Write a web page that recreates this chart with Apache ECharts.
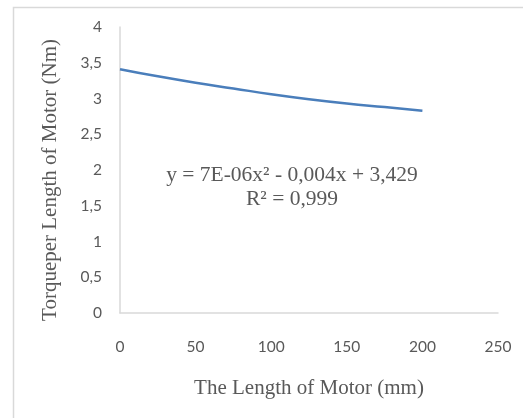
<!DOCTYPE html>
<html><head><meta charset="utf-8">
<script src="https://cdn.jsdelivr.net/npm/echarts@6/dist/echarts.min.js"></script>
<style>html,body{margin:0;padding:0;background:#fff}#c{width:523px;height:418px}</style>
</head><body><div id="c"></div>
<script>
const xValues = [0, 25, 50, 75, 100, 125, 150, 175, 200];
const torque = [3.41, 3.31, 3.22, 3.14, 3.06, 2.99, 2.93, 2.88, 2.83];
const xTicks = [0, 50, 100, 150, 200, 250];
const yTicks = ['0', '0,5', '1', '1,5', '2', '2,5', '3', '3,5', '4'];
const xName = 'The Length of Motor (mm)';
const yName = 'Torqueper Length of Motor (Nm)';
const eqLine1 = 'y = 7E-06x² - 0,004x + 3,429';
const eqLine2 = 'R² = 0,999';

const chart = echarts.init(document.getElementById('c'), null, {renderer: 'canvas'});
const serif = '"Liberation Serif", "DejaVu Serif", serif';
chart.setOption({
  animation: false,
  backgroundColor: '#fff',
  grid: {left: 120, right: 25, top: 27, bottom: 105},
  xAxis: {
    type: 'value', min: 0, max: 250, interval: 50,
    axisLine: {show: true, lineStyle: {color: '#d9d9d9', width: 1.5}},
    axisTick: {show: false},
    splitLine: {show: false},
    axisLabel: {color: '#595959', fontFamily: 'Lato', fontSize: 15.5, margin: 26,
      formatter: v => String(v)},
    name: xName, nameLocation: 'middle', nameGap: 65,
    nameTextStyle: {color: '#595959', fontFamily: serif, fontSize: 21}
  },
  yAxis: {
    type: 'value', min: 0, max: 4, interval: 0.5,
    axisLine: {show: true, lineStyle: {color: '#d9d9d9', width: 1.5}},
    axisTick: {show: false},
    splitLine: {show: false},
    axisLabel: {color: '#595959', fontFamily: 'Lato', fontSize: 15.5, margin: 18,
      formatter: v => yTicks[Math.round(v / 0.5)]}
  },
  series: [{
    type: 'line', smooth: true, showSymbol: false,
    data: xValues.map((x, i) => [x, torque[i]]),
    lineStyle: {color: '#4A7EBB', width: 2.5}
  }],
  graphic: [
    {type: 'rect', left: 11, top: 5, shape: {width: 600, height: 500},
      style: {fill: 'none', stroke: '#d9d9d9', lineWidth: 1.5}, z: -1},
    {type: 'text', x: 50, y: 180, rotation: Math.PI / 2, style: {text: yName, fill: '#595959',
      font: '21px ' + serif, textAlign: 'center', textVerticalAlign: 'middle'}},
    {type: 'text', x: 292, y: 175, style: {text: eqLine1, fill: '#595959',
      font: '21.5px ' + serif, textAlign: 'center', textVerticalAlign: 'middle'}},
    {type: 'text', x: 292, y: 199, style: {text: eqLine2, fill: '#595959',
      font: '21.5px ' + serif, textAlign: 'center', textVerticalAlign: 'middle'}}
  ]
});
</script></body></html>
